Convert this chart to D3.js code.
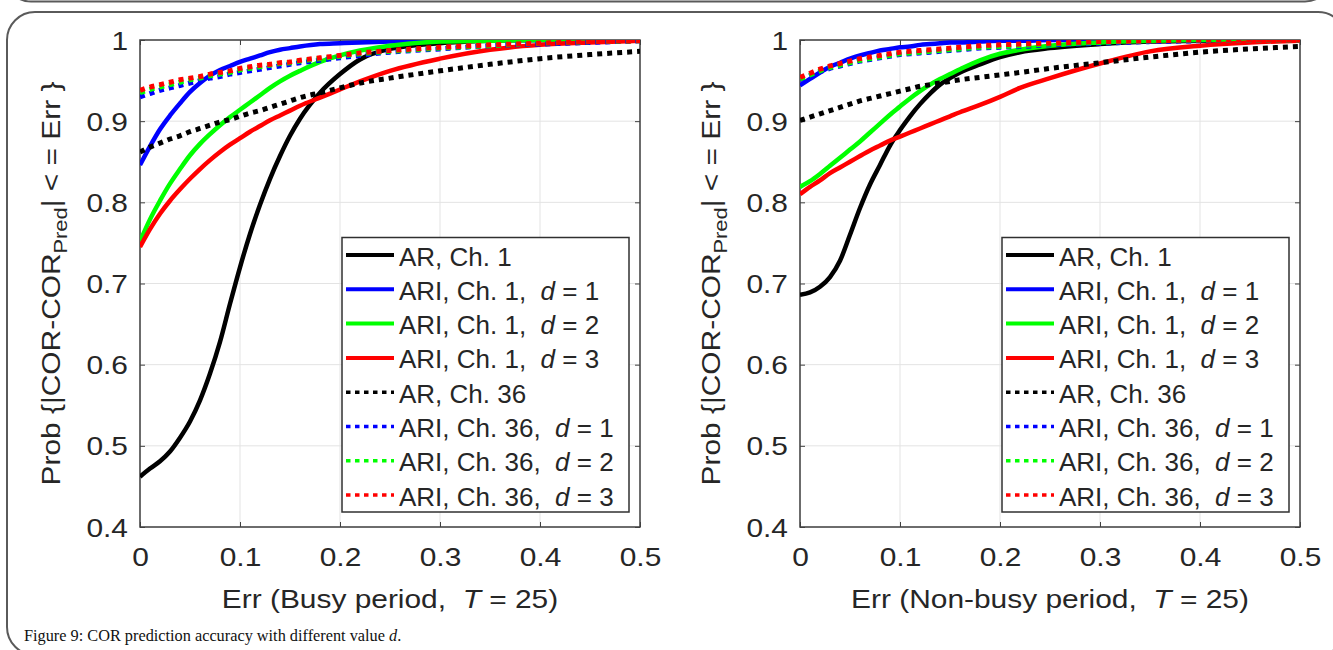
<!DOCTYPE html>
<html>
<head>
<meta charset="utf-8">
<script src="https://cdn.jsdelivr.net/npm/d3@7"></script>
<style>
  body { margin: 0; background: #fff; }
  svg { display: block; }
  text { font-family: "Liberation Sans", Arial, sans-serif; fill: #262626; white-space: pre; }
  text.caption { font-family: "Liberation Serif", "Times New Roman", serif; fill: #111; }
</style>
</head>
<body>
<div id="chart"></div>
<script>
// ---- data ----
var errGrid = [0, 0.01, 0.02, 0.03, 0.04, 0.05, 0.06, 0.07, 0.08, 0.09, 0.1, 0.11, 0.12, 0.13, 0.14, 0.15, 0.16, 0.18, 0.2, 0.22, 0.25, 0.3, 0.35, 0.4, 0.45, 0.5];

// busy period
var busyArCh1      = [0.462, 0.472, 0.481, 0.493, 0.510, 0.530, 0.556, 0.589, 0.628, 0.675, 0.720, 0.761, 0.797, 0.829, 0.857, 0.882, 0.903, 0.935, 0.958, 0.976, 0.989, 0.996, 0.999, 1.0, 1.0, 1.0];
var busyAriCh1d1   = [0.846, 0.869, 0.890, 0.907, 0.922, 0.936, 0.947, 0.956, 0.963, 0.968, 0.973, 0.977, 0.981, 0.985, 0.988, 0.990, 0.992, 0.995, 0.996, 0.997, 0.998, 0.999, 1.0, 1.0, 1.0, 1.0];
var busyAriCh1d2   = [0.752, 0.779, 0.802, 0.823, 0.841, 0.858, 0.872, 0.884, 0.895, 0.905, 0.914, 0.923, 0.932, 0.941, 0.949, 0.956, 0.962, 0.973, 0.981, 0.987, 0.993, 0.998, 0.999, 1.0, 1.0, 1.0];
var busyAriCh1d3   = [0.745, 0.767, 0.786, 0.802, 0.816, 0.829, 0.841, 0.852, 0.862, 0.871, 0.879, 0.887, 0.894, 0.901, 0.907, 0.913, 0.919, 0.929, 0.939, 0.949, 0.962, 0.977, 0.988, 0.994, 0.997, 0.999];
var busyArCh36     = [0.862, 0.868, 0.873, 0.878, 0.882, 0.887, 0.891, 0.895, 0.899, 0.902, 0.906, 0.910, 0.913, 0.917, 0.921, 0.925, 0.929, 0.935, 0.941, 0.947, 0.953, 0.962, 0.970, 0.977, 0.982, 0.986];
var busyAriCh36d1  = [0.930, 0.934, 0.938, 0.941, 0.944, 0.947, 0.950, 0.953, 0.955, 0.958, 0.960, 0.962, 0.964, 0.966, 0.968, 0.970, 0.972, 0.975, 0.978, 0.981, 0.985, 0.989, 0.993, 0.995, 0.997, 0.999];
var busyAriCh36d2  = [0.935, 0.939, 0.942, 0.945, 0.948, 0.951, 0.953, 0.956, 0.958, 0.960, 0.963, 0.965, 0.967, 0.969, 0.971, 0.972, 0.974, 0.977, 0.980, 0.983, 0.986, 0.990, 0.993, 0.996, 0.998, 0.999];
var busyAriCh36d3  = [0.938, 0.942, 0.945, 0.948, 0.951, 0.953, 0.955, 0.958, 0.960, 0.962, 0.965, 0.967, 0.969, 0.970, 0.972, 0.973, 0.975, 0.978, 0.981, 0.984, 0.987, 0.991, 0.994, 0.996, 0.998, 0.999];

// non-busy period
var idleArCh1      = [0.686, 0.689, 0.696, 0.708, 0.728, 0.760, 0.793, 0.822, 0.846, 0.870, 0.889, 0.906, 0.921, 0.934, 0.945, 0.953, 0.960, 0.970, 0.979, 0.985, 0.990, 0.995, 0.998, 0.999, 1.0, 1.0];
var idleAriCh1d1   = [0.944, 0.952, 0.960, 0.967, 0.972, 0.977, 0.981, 0.984, 0.987, 0.989, 0.991, 0.992, 0.994, 0.995, 0.996, 0.997, 0.997, 0.998, 0.999, 0.999, 1.0, 1.0, 1.0, 1.0, 1.0, 1.0];
var idleAriCh1d2   = [0.819, 0.826, 0.835, 0.845, 0.855, 0.865, 0.875, 0.886, 0.897, 0.908, 0.918, 0.928, 0.937, 0.945, 0.952, 0.958, 0.964, 0.975, 0.983, 0.988, 0.993, 0.997, 0.999, 1.0, 1.0, 1.0];
var idleAriCh1d3   = [0.810, 0.819, 0.827, 0.836, 0.843, 0.850, 0.857, 0.864, 0.870, 0.876, 0.881, 0.886, 0.891, 0.896, 0.901, 0.906, 0.911, 0.920, 0.930, 0.941, 0.953, 0.971, 0.986, 0.993, 0.997, 0.999];
var idleArCh36     = [0.901, 0.905, 0.909, 0.913, 0.917, 0.921, 0.925, 0.928, 0.931, 0.934, 0.937, 0.940, 0.943, 0.945, 0.947, 0.949, 0.951, 0.954, 0.957, 0.960, 0.965, 0.972, 0.979, 0.985, 0.989, 0.992];
var idleAriCh36d1  = [0.951, 0.956, 0.961, 0.965, 0.968, 0.971, 0.974, 0.976, 0.978, 0.980, 0.982, 0.983, 0.984, 0.985, 0.986, 0.987, 0.988, 0.990, 0.991, 0.992, 0.994, 0.996, 0.998, 0.999, 1.0, 1.0];
var idleAriCh36d2  = [0.952, 0.957, 0.962, 0.966, 0.969, 0.972, 0.975, 0.977, 0.979, 0.981, 0.983, 0.984, 0.985, 0.986, 0.987, 0.988, 0.989, 0.991, 0.992, 0.993, 0.995, 0.997, 0.999, 1.0, 1.0, 1.0];
var idleAriCh36d3  = [0.954, 0.959, 0.964, 0.968, 0.971, 0.974, 0.977, 0.979, 0.981, 0.983, 0.985, 0.986, 0.987, 0.988, 0.989, 0.990, 0.991, 0.993, 0.994, 0.995, 0.996, 0.998, 0.999, 1.0, 1.0, 1.0];

var seriesLabels = ["AR, Ch. 1", "ARI, Ch. 1,  d = 1", "ARI, Ch. 1,  d = 2", "ARI, Ch. 1,  d = 3",
                    "AR, Ch. 36", "ARI, Ch. 36,  d = 1", "ARI, Ch. 36,  d = 2", "ARI, Ch. 36,  d = 3"];
var seriesColors = ["#000000", "#0000ff", "#00ff00", "#ff0000", "#000000", "#0000ff", "#00ff00", "#ff0000"];
var seriesDotted = [false, false, false, false, true, true, true, true];

var xTicks = [0, 0.1, 0.2, 0.3, 0.4, 0.5];
var xTickLabels = ["0", "0.1", "0.2", "0.3", "0.4", "0.5"];
var yTicks = [0.4, 0.5, 0.6, 0.7, 0.8, 0.9, 1];
var yTickLabels = ["0.4", "0.5", "0.6", "0.7", "0.8", "0.9", "1"];

var busySeries = [busyArCh1, busyAriCh1d1, busyAriCh1d2, busyAriCh1d3, busyArCh36, busyAriCh36d1, busyAriCh36d2, busyAriCh36d3];
var idleSeries = [idleArCh1, idleAriCh1d1, idleAriCh1d2, idleAriCh1d3, idleArCh36, idleAriCh36d1, idleAriCh36d2, idleAriCh36d3];

// ---- layout ----
var width = 1333, height = 650,
    plotTop = 40, plotBottom = 527, plotW = 500;

var svg = d3.select("#chart").append("svg")
    .attr("width", width)
    .attr("height", height);

// page frames
svg.append("rect")
    .attr("x", 5).attr("y", -60).attr("width", 1326).attr("height", 61.5).attr("rx", 26)
    .attr("fill", "none").attr("stroke", "#5a5a5a").attr("stroke-width", 2);
svg.append("rect")
    .attr("x", 7).attr("y", 12).attr("width", 1339).attr("height", 643).attr("rx", 28)
    .attr("fill", "none").attr("stroke", "#5a5a5a").attr("stroke-width", 2);

var stretch = "scale(1.15,1)";

function drawPanel(id, left, seriesData, xTitleHead) {
    var x = d3.scaleLinear().domain([0, 0.5]).range([left, left + plotW]);
    var y = d3.scaleLinear().domain([0.4, 1]).range([plotBottom, plotTop]);
    var g = svg.append("g");

    // grid
    g.append("g").selectAll("line").data(xTicks).join("line")
        .attr("x1", x).attr("x2", x).attr("y1", plotTop).attr("y2", plotBottom)
        .attr("stroke", "#e3e3e3").attr("stroke-width", 1);
    g.append("g").selectAll("line").data(yTicks).join("line")
        .attr("y1", y).attr("y2", y).attr("x1", left).attr("x2", left + plotW)
        .attr("stroke", "#e3e3e3").attr("stroke-width", 1);

    // axes (inside ticks on all four sides)
    var ax = g.append("g").attr("transform", "translate(0," + plotBottom + ")")
        .call(d3.axisBottom(x).tickValues(xTicks).tickSize(-5).tickSizeOuter(0)
            .tickFormat(function (d, i) { return xTickLabels[i]; }));
    var ay = g.append("g").attr("transform", "translate(" + left + ",0)")
        .call(d3.axisLeft(y).tickValues(yTicks).tickSize(-5).tickSizeOuter(0)
            .tickFormat(function (d, i) { return yTickLabels[i]; }));
    g.append("g").attr("transform", "translate(0," + plotTop + ")")
        .call(d3.axisTop(x).tickValues(xTicks).tickSize(-5).tickSizeOuter(0).tickFormat(""));
    g.append("g").attr("transform", "translate(" + (left + plotW) + ",0)")
        .call(d3.axisRight(y).tickValues(yTicks).tickSize(-5).tickSizeOuter(0).tickFormat(""));
    g.selectAll(".domain").remove();
    g.selectAll(".tick line").attr("stroke", "#404040");

    ax.selectAll("text")
        .attr("font-size", 26).attr("font-family", null).attr("fill", "#262626")
        .attr("y", 39).attr("dy", null)
        .attr("transform", stretch);
    ay.selectAll("text")
        .attr("font-size", 26).attr("font-family", null).attr("fill", "#262626")
        .attr("x", null).attr("dy", "0.35em")
        .attr("transform", "translate(-12,0) " + stretch);

    // box
    g.append("rect")
        .attr("x", left).attr("y", plotTop).attr("width", plotW).attr("height", plotBottom - plotTop)
        .attr("fill", "none").attr("stroke", "#404040").attr("stroke-width", 1.5);

    // curves
    g.append("clipPath").attr("id", "clip-" + id)
        .append("rect").attr("x", left).attr("y", plotTop).attr("width", plotW).attr("height", plotBottom - plotTop);

    var line = d3.line()
        .x(function (d, i) { return x(errGrid[i]); })
        .y(function (d) { return y(d); })
        .curve(d3.curveMonotoneX);

    g.append("g").attr("clip-path", "url(#clip-" + id + ")")
        .selectAll("path").data(seriesData).join("path")
        .attr("d", line)
        .attr("fill", "none")
        .attr("stroke", function (d, i) { return seriesColors[i]; })
        .attr("stroke-width", function (d, i) { return seriesDotted[i] ? 5 : 4.5; })
        .attr("stroke-dasharray", function (d, i) { return seriesDotted[i] ? "5,5" : null; });

    // x title
    var xt = g.append("text")
        .attr("transform", "translate(" + (left + plotW / 2) + ",608) " + stretch)
        .attr("text-anchor", "middle")
        .attr("font-size", 26);
    xt.append("tspan").text(xTitleHead);
    xt.append("tspan").attr("font-style", "italic").text("T");
    xt.append("tspan").text(" = 25)");

    // y title
    var yt = g.append("text")
        .attr("transform", "translate(" + (left - 80) + "," + ((plotTop + plotBottom) / 2) + ") rotate(-90) " + stretch)
        .attr("text-anchor", "middle")
        .attr("font-size", 26);
    yt.append("tspan").text("Prob {|COR-COR");
    yt.append("tspan").attr("font-size", 19).attr("dy", 7).text("Pred");
    yt.append("tspan").attr("dy", -7).text("| < = Err }");

    // legend
    var legendX = left + 202, legendTop = 237.5, rowH = 34.3;
    var lg = g.append("g");
    lg.append("rect")
        .attr("x", legendX).attr("y", legendTop).attr("width", 287).attr("height", 274.5)
        .attr("fill", "#fff").attr("stroke", "#303030").attr("stroke-width", 1.5);

    var row = lg.selectAll("g.row").data(seriesLabels).join("g")
        .attr("class", "row")
        .attr("transform", function (d, i) { return "translate(" + legendX + "," + (legendTop + 17.5 + i * rowH) + ")"; });

    row.append("line")
        .attr("x1", 4).attr("x2", 52)
        .attr("stroke", function (d, i) { return seriesColors[i]; })
        .attr("stroke-width", function (d, i) { return seriesDotted[i] ? 3.5 : 4; })
        .attr("stroke-dasharray", function (d, i) { return seriesDotted[i] ? "4.5,4.5" : null; });

    row.append("text")
        .attr("x", 57).attr("y", 10.5)
        .attr("font-size", 26)
        .each(function (d) {
            var t = d3.select(this);
            var parts = d.split("d = ");
            t.append("tspan").text(parts[0]);
            if (parts.length > 1) {
                t.append("tspan").attr("font-style", "italic").text("d");
                t.append("tspan").text(" = " + parts[1]);
            }
        });
}

drawPanel("busy", 140, busySeries, "Err (Busy period,  ");
drawPanel("idle", 800, idleSeries, "Err (Non-busy period,  ");

// caption
var cap = svg.append("text")
    .attr("class", "caption")
    .attr("x", 24).attr("y", 641)
    .attr("font-size", 16.3);
cap.append("tspan").text("Figure 9: COR prediction accuracy with different value ");
cap.append("tspan").attr("font-style", "italic").text("d");
cap.append("tspan").text(".");
</script>
</body>
</html>
